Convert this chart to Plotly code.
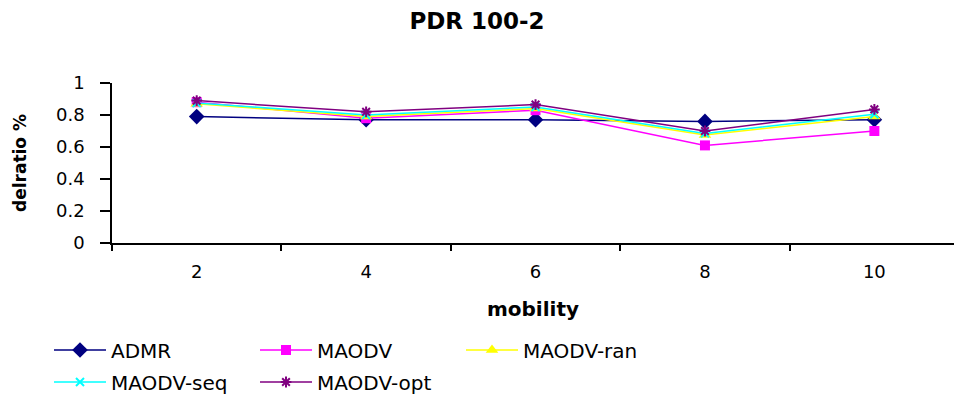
import plotly.graph_objects as go

categories = ["2", "4", "6", "8", "10"]
admr = [0.79, 0.77, 0.77, 0.76, 0.77]
maodv = [0.88, 0.78, 0.83, 0.61, 0.70]
maodv_ran = [0.87, 0.79, 0.84, 0.675, 0.79]
maodv_seq = [0.875, 0.80, 0.85, 0.685, 0.805]
maodv_opt = [0.89, 0.82, 0.865, 0.70, 0.835]

FONT = "DejaVu Sans, Verdana, sans-serif"

series = [
    ("ADMR", admr, "#000080", dict(symbol="diamond", size=12, color="#000080"), "legend"),
    ("MAODV", maodv, "#FF00FF", dict(symbol="square", size=10, color="#FF00FF"), "legend"),
    ("MAODV-ran", maodv_ran, "#FFFF00", dict(symbol="triangle-up", size=11, color="#FFFF00"), "legend"),
    ("MAODV-seq", maodv_seq, "#00FFFF", dict(symbol="x-thin-open", size=8, color="#00FFFF",
                                             line=dict(color="#00FFFF", width=2)), "legend2"),
    ("MAODV-opt", maodv_opt, "#800080", dict(symbol="asterisk-open", size=9, color="#800080",
                                             line=dict(color="#800080", width=2)), "legend2"),
]

fig = go.Figure()
for name, vals, col, mk, lg in series:
    fig.add_trace(go.Scatter(x=categories, y=vals, name=name, mode="lines+markers",
                             line=dict(color=col, width=1.5), marker=mk, legend=lg))

legend_common = dict(orientation="h", xanchor="left", yanchor="middle",
                     xref="container", yref="container",
                     entrywidth=139, entrywidthmode="pixels", itemwidth=52,
                     font=dict(size=20, family=FONT), bgcolor="rgba(0,0,0,0)")

fig.update_layout(
    width=954, height=394,
    margin=dict(l=112, r=0, t=83, b=151),
    paper_bgcolor="white", plot_bgcolor="white",
    font=dict(family=FONT, size=18, color="black"),
    title=dict(text="<b>PDR 100-2</b>", x=0.5, xref="container", xanchor="center",
               y=1 - 21 / 394, yref="container", yanchor="middle",
               font=dict(size=23, family=FONT)),
    xaxis=dict(type="category", range=[-0.5, 4.47], tickson="boundaries",
               ticks="outside", ticklen=6, tickcolor="black", tickwidth=1.5,
               showline=True, linecolor="black", linewidth=1.5, showgrid=False,
               ticklabelstandoff=12, automargin=True,
               title=dict(text="<b>mobility</b>", font=dict(size=20, family=FONT), standoff=21)),
    yaxis=dict(range=[0, 1], tickvals=[0, 0.2, 0.4, 0.6, 0.8, 1],
               ticktext=["0", "0.2", "0.4", "0.6", "0.8", "1"],
               ticks="outside", ticklen=10, tickcolor="black", tickwidth=1.5,
               showline=True, linecolor="black", linewidth=1.5, showgrid=False,
               zeroline=False, ticklabelstandoff=12, automargin=True,
               title=dict(text="<b>delratio %</b>", font=dict(size=17, family=FONT), standoff=25)),
    legend=dict(x=(49) / 954, y=1 - 350 / 394, **legend_common),
    legend2=dict(x=(49) / 954, y=1 - 382 / 394, **legend_common),
    showlegend=True,
)

fig.write_html("out.html")
